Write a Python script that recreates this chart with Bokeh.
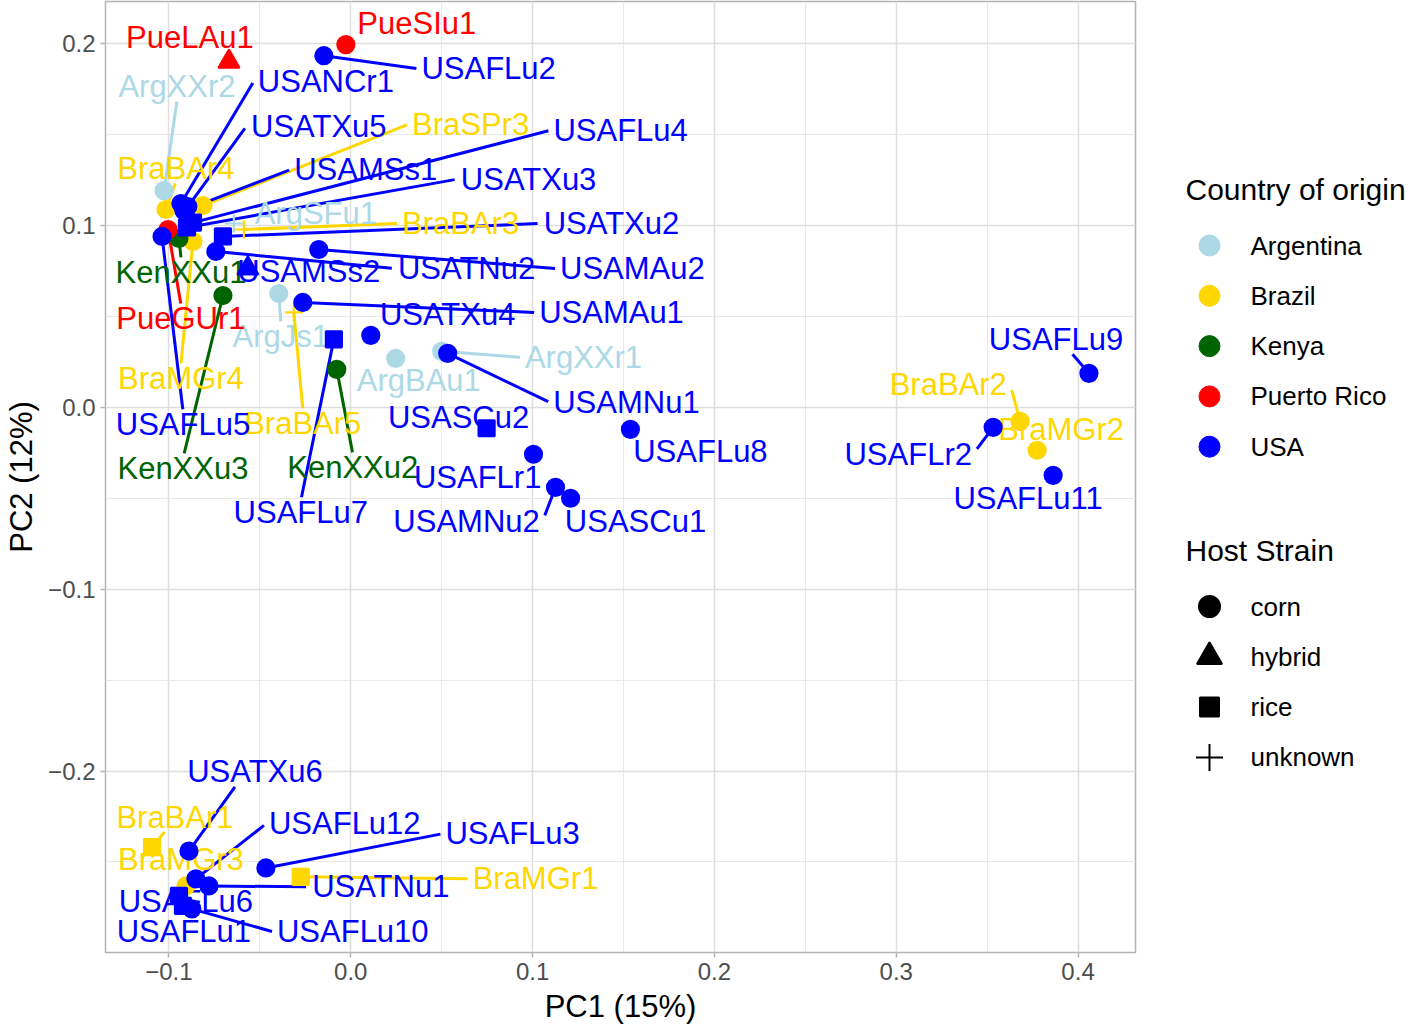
import math
from bokeh.plotting import figure
from bokeh.models import Range1d, SingleIntervalTicker, CustomJSTickFormatter, ColumnDataSource
from bokeh.layouts import row
from bokeh.embed import file_html
from bokeh.resources import INLINE
from bokeh.core.properties import value

# ---------------- data ----------------
names = ["ArgXXr2", "ArgSFu1", "ArgJs1", "ArgBAu1", "ArgXXr1",
         "BraBAr4", "BraSPr3", "BraBAr3", "BraMGr4", "BraBAr5", "BraBAr2", "BraMGr2", "BraBAr1", "BraMGr3", "BraMGr1",
         "KenXXu1", "KenXXu3", "KenXXu2",
         "PueLAu1", "PueSIu1", "PueGUr1",
         "USAFLu2", "USANCr1", "USATXu5", "USAMSs1", "USAFLu4", "USATXu3", "USATXu2", "USATNu2", "USAMAu2",
         "USAFLu5", "USAMSs2", "USAMAu1", "USATXu4", "USAFLu7", "USAMNu1", "USASCu2", "USAFLr1", "USAMNu2",
         "USASCu1", "USAFLu8", "USAFLu9", "USAFLr2", "USAFLu11", "USATXu6", "USAFLu12", "USAFLu3", "USATNu1",
         "USAFLu6", "USAFLu1", "USAFLu10"]

country = (["Argentina"] * 5 + ["Brazil"] * 10 + ["Kenya"] * 3 + ["Puerto Rico"] * 3 + ["USA"] * 30)

host = ["corn", "unknown", "corn", "corn", "corn",
        "corn", "corn", "unknown", "corn", "unknown", "corn", "corn", "rice", "corn", "rice",
        "corn", "corn", "corn",
        "hybrid", "corn", "corn",
        "corn", "corn", "corn", "corn", "rice", "rice", "rice", "corn", "corn",
        "corn", "hybrid", "corn", "corn", "rice", "corn", "rice", "corn", "corn",
        "corn", "corn", "corn", "corn", "corn", "corn", "corn", "corn", "corn",
        "rice", "rice", "corn"]

pc1 = [-0.1027, -0.0643, -0.0396, 0.0247, 0.0500,
       -0.1016, -0.0813, -0.0588, -0.0868, -0.0313, 0.3681, 0.3775, -0.1093, -0.0907, -0.0275,
       -0.0945, -0.0703, -0.0077,
       -0.0670, -0.0027, -0.1005,
       -0.0148, -0.0934, -0.0896, -0.0918, -0.0868, -0.0901, -0.0703, -0.0742, -0.0176,
       -0.1038, -0.0566, -0.0264, 0.0110, -0.0093, 0.0533, 0.0747, 0.1005, 0.1126,
       0.1209, 0.1538, 0.4060, 0.3533, 0.3863, -0.0890, -0.0852, -0.0467, -0.0780,
       -0.0945, -0.0923, -0.0874]

pc2 = [0.1192, 0.1011, 0.0626, 0.0269, 0.0308,
       0.1088, 0.1110, 0.0978, 0.0912, 0.0522, -0.0077, -0.0236, -0.2418, -0.2632, -0.2582,
       0.0929, 0.0615, 0.0209,
       0.1901, 0.1995, 0.0978,
       0.1934, 0.1121, 0.1104, 0.1082, 0.1016, 0.0989, 0.0940, 0.0857, 0.0868,
       0.0940, 0.0764, 0.0577, 0.0396, 0.0374, 0.0297, -0.0115, -0.0258, -0.0440,
       -0.0500, -0.0121, 0.0187, -0.0110, -0.0374, -0.2440, -0.2593, -0.2533, -0.2632,
       -0.2687, -0.2742, -0.2758]

# repelled label positions (data units)
lab_x = [-0.0956, -0.0192, -0.0385, 0.0374, 0.1280,
         -0.0962, 0.0659, 0.0604, -0.0934, -0.0264, 0.3286, 0.3907, -0.0967, -0.0934, 0.1016,
         -0.0934, -0.0923, 0.0011,
         -0.0885, 0.0363, -0.0934,
         0.0758, -0.0137, -0.0176, 0.0082, 0.1484, 0.0978, 0.1434, 0.0637, 0.1549,
         -0.0923, -0.0231, 0.1434, 0.0533, -0.0275, 0.1516, 0.0593, 0.0698, 0.0637,
         0.1566, 0.1923, 0.3879, 0.3066, 0.3725, -0.0527, -0.0033, 0.0890, 0.0165,
         -0.0907, -0.0918, 0.0011]

lab_y = [0.1764, 0.1066, 0.0390, 0.0148, 0.0275,
         0.1313, 0.1555, 0.1011, 0.0159, -0.0088, 0.0126, -0.0121, -0.2253, -0.2489, -0.2593,
         0.0742, -0.0335, -0.0330,
         0.2033, 0.2110, 0.0489,
         0.1863, 0.1791, 0.1544, 0.1308, 0.1522, 0.1253, 0.1011, 0.0764, 0.0764,
         -0.0093, 0.0747, 0.0522, 0.0511, -0.0577, 0.0027, -0.0055, -0.0385, -0.0626,
         -0.0626, -0.0242, 0.0374, -0.0258, -0.0500, -0.2005, -0.2291, -0.2346, -0.2637,
         -0.2720, -0.2885, -0.2885]

country_levels = ["Argentina", "Brazil", "Kenya", "Puerto Rico", "USA"]
host_levels = ["corn", "hybrid", "rice", "unknown"]

# ---------------- styles ----------------
country_colors = {"Argentina": "#ADD8E6", "Brazil": "#FFD700", "Kenya": "#006400",
                  "Puerto Rico": "#FF0000", "USA": "#0000FF"}
host_marker = {"corn": "circle", "hybrid": "triangle", "rice": "square", "unknown": "cross"}
host_size = {"corn": 17, "hybrid": 21, "rice": 16, "unknown": 18}
FONT = "Liberation Sans"
LABEL_PX = 31

X0, X1 = -0.1349, 0.4316
Y0, Y1 = -0.2998, 0.2232
FW, FH = 1030, 951
BL, BR, BT, BB = 105, 3, 1, 76
kx = FW / (X1 - X0)
ky = FH / (Y1 - Y0)

cw = {"A": 667, "B": 667, "C": 722, "F": 611, "G": 778, "J": 500, "K": 667, "L": 556, "M": 833,
      "N": 722, "P": 667, "R": 722, "S": 667, "T": 611, "U": 722, "X": 667, "I": 278,
      "a": 556, "e": 556, "g": 556, "l": 222, "n": 556, "r": 333, "s": 500, "u": 556}

def text_w(s):
    return sum(cw.get(c, 556) for c in s) * LABEL_PX / 1000.0

def connect(px_, py_, cx, cy, hw, hh):
    """ggrepel-style connection point on the label box (pixel space, y up)."""
    b0, b1, b2, b3 = cx - hw, cy - hh, cx + hw, cy + hh
    left = right = top = bottom = False
    if b0 <= px_ <= b2:
        ox = px_
    elif px_ > b2:
        ox = b2; right = True
    else:
        ox = b0; left = True
    if b1 <= py_ <= b3:
        oy = py_
    elif py_ > b3:
        oy = b3; top = True
    else:
        oy = b1; bottom = True
    d = math.hypot(px_ - ox, py_ - oy)
    if d == 0:
        return ox, oy, 0.0
    if (top or bottom) and not (left or right):
        altd = math.hypot(px_ - cx, py_ - oy)
        if altd > 0:
            ox = ox + (cx - ox) * d / altd
    elif (left or right) and not (top or bottom):
        altd = math.hypot(px_ - ox, py_ - cy)
        if altd > 0:
            oy = oy + (cy - oy) * d / altd
    else:
        altd1 = math.hypot(px_ - cx, py_ - oy)
        altd2 = math.hypot(px_ - ox, py_ - cy)
        if altd1 < altd2:
            ox = ox + (cx - ox) * d / altd1
        else:
            oy = oy + (cy - oy) * d / altd2
    return ox, oy, math.hypot(px_ - ox, py_ - oy)

colors = [country_colors[c] for c in country]

sx0, sy0, sx1, sy1, sc = [], [], [], [], []
for i, nm in enumerate(names):
    hw = text_w(nm) / 2 + 5
    hh = 15
    ox, oy, L = connect(pc1[i] * kx, pc2[i] * ky, lab_x[i] * kx, lab_y[i] * ky, hw, hh)
    if L > 18:
        sx0.append(pc1[i]); sy0.append(pc2[i])
        sx1.append(ox / kx); sy1.append(oy / ky)
        sc.append(colors[i])

p = figure(width=BL + FW + BR, height=BT + FH + BB, frame_width=FW, frame_height=FH,
           x_range=Range1d(X0, X1), y_range=Range1d(Y0, Y1),
           output_backend="svg", toolbar_location=None,
           min_border_left=BL, min_border_right=BR, min_border_top=BT, min_border_bottom=BB)
p.background_fill_color = "white"
p.border_fill_color = "white"
p.outline_line_color = "#B3B3B3"
p.outline_line_width = 1.5

fmt = CustomJSTickFormatter(code="""
const v = Math.abs(tick) < 1e-9 ? 0 : tick;
const s = Math.abs(v).toFixed(1);
return v < 0 ? "\u2212" + s : s;
""")
for ax, lab in ((p.xaxis[0], "PC1 (15%)"), (p.yaxis[0], "PC2 (12%)")):
    ax.ticker = SingleIntervalTicker(interval=0.1, num_minor_ticks=2)
    ax.formatter = fmt
    ax.axis_label = lab
    ax.axis_label_text_font = FONT
    ax.axis_label_text_font_size = "31px"
    ax.axis_label_text_font_style = "normal"
    ax.axis_label_text_color = "black"
    ax.axis_label_standoff = 6
    ax.major_label_text_font = FONT
    ax.major_label_text_font_size = "24px"
    ax.major_label_text_color = "#4D4D4D"
    ax.major_label_standoff = 5
    ax.axis_line_color = None
    ax.major_tick_line_color = "#B3B3B3"
    ax.major_tick_line_width = 1.5
    ax.major_tick_out = 5
    ax.major_tick_in = 0
    ax.minor_tick_line_color = None

p.xgrid.ticker = p.xaxis[0].ticker
p.ygrid.ticker = p.yaxis[0].ticker
for g in (p.xgrid[0], p.ygrid[0]):
    g.grid_line_color = "#DEDEDE"
    g.grid_line_width = 1.5
    g.minor_grid_line_color = "#E6E6E6"
    g.minor_grid_line_width = 0.9

p.segment(x0=sx0, y0=sy0, x1=sx1, y1=sy1, line_color=sc, line_width=3)

p.text(x=lab_x, y=lab_y, text=names, text_color=colors, text_font=value(FONT),
       text_font_size=f"{LABEL_PX}px", text_align="center", text_baseline="middle")

src = ColumnDataSource(dict(x=pc1, y=pc2, c=colors,
                            m=[host_marker[h] for h in host],
                            s=[host_size[h] for h in host]))
p.scatter(x="x", y="y", marker="m", size="s", fill_color="c", line_color="c",
          line_width=2.2, source=src)

# ---------------- legend panel ----------------
LW = 1418 - (BL + FW + BR)
LH = BT + FH + BB
lg = figure(width=LW, height=LH, frame_width=LW, frame_height=LH,
            x_range=Range1d(0, LW), y_range=Range1d(LH, 0),
            output_backend="svg", toolbar_location=None,
            min_border_left=0, min_border_right=0, min_border_top=0, min_border_bottom=0,
            x_axis_location=None, y_axis_location=None)
lg.grid.visible = False
lg.outline_line_color = None
lg.background_fill_color = "white"
lg.border_fill_color = "white"

title_y = [188, 549]
step = 50.3
cy = [title_y[0] + 56 + i * step for i in range(len(country_levels))]
hy = [title_y[1] + 56 + i * step for i in range(len(host_levels))]

lg.text(x=[47, 47], y=title_y, text=["Country of origin", "Host Strain"], text_color="black",
        text_font=value(FONT), text_font_size="30px", text_align="left", text_baseline="middle")
lg.scatter(x=[71] * len(cy), y=cy, marker="circle", size=21,
           color=[country_colors[c] for c in country_levels])
lg.text(x=[112] * len(cy), y=cy, text=country_levels, text_color="black",
        text_font=value(FONT), text_font_size="26px", text_align="left", text_baseline="middle")
lg.scatter(x=[71] * len(hy), y=hy, marker=[host_marker[h] for h in host_levels],
           size=[21, 25, 19, 27], fill_color="black", line_color="black", line_width=2)
lg.text(x=[112] * len(hy), y=hy, text=host_levels, text_color="black",
        text_font=value(FONT), text_font_size="26px", text_align="left", text_baseline="middle")

layout = row(p, lg)
open("out.html", "w").write(file_html(layout, INLINE))
